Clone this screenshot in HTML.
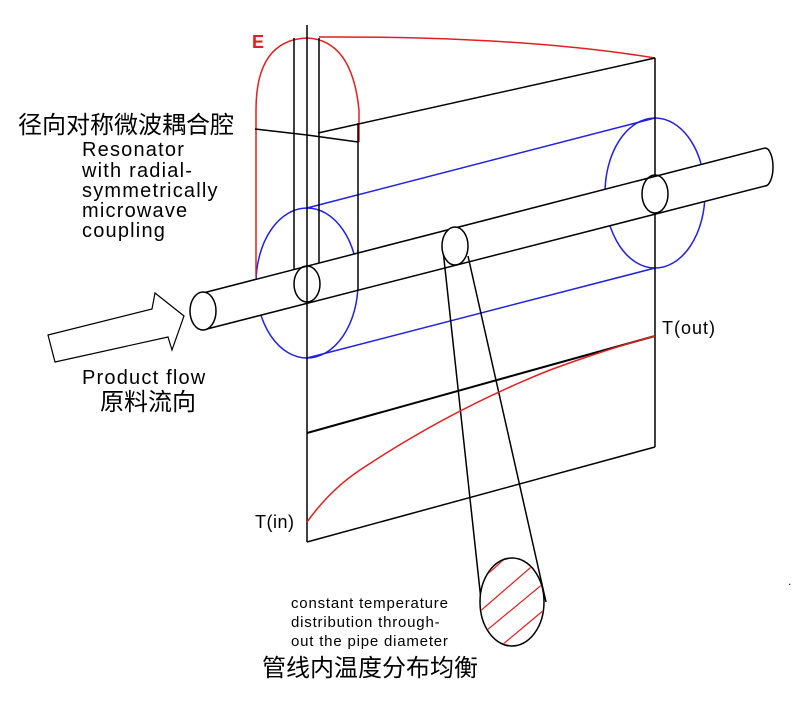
<!DOCTYPE html>
<html><head><meta charset="utf-8"><style>
html,body{margin:0;padding:0;background:#fff;}
svg{display:block;}
text{font-family:"Liberation Sans","Noto Sans CJK SC",sans-serif;fill:#000;}
</style></head><body>
<svg width="808" height="702" viewBox="0 0 808 702" xmlns="http://www.w3.org/2000/svg">
<g fill="none" stroke-width="1.5">
<ellipse cx="307" cy="283" rx="51" ry="75" stroke="#2020e0"/>
<ellipse cx="655" cy="193" rx="50" ry="75" stroke="#2020e0"/>
<line x1="307" y1="208" x2="655" y2="118" stroke="#2020e0"/>
<line x1="307" y1="358" x2="655" y2="268" stroke="#2020e0"/>
<path d="M256,276 L256,110 Q256,40 307,38 Q352,40 359,110 L359,142" stroke="#e02020"/>
<path d="M319,37 Q520,36 655,58" stroke="#e02020"/>
<line x1="307" y1="25" x2="307" y2="542" stroke="#000"/>
<line x1="294" y1="38" x2="294" y2="270" stroke="#000"/>
<line x1="319" y1="38" x2="319" y2="265" stroke="#000"/>
<line x1="358" y1="123" x2="358" y2="290" stroke="#000"/>
<line x1="655" y1="58" x2="655" y2="447" stroke="#000"/>
<line x1="655" y1="58" x2="318" y2="133" stroke="#000"/>
<line x1="307" y1="135" x2="358" y2="142" stroke="#000"/>
<line x1="255" y1="129" x2="307" y2="135" stroke="#000"/>
<path d="M203,293 L765,148 L765,186 L203,330 Z" fill="#fff" stroke="none"/>
<line x1="203" y1="293" x2="765" y2="148" stroke="#000"/>
<line x1="203" y1="330" x2="765" y2="186" stroke="#000"/>
<path d="M765,148 A8,19 0 0 1 765,186" stroke="#000"/>
<ellipse cx="203" cy="311" rx="13" ry="19" stroke="#000" fill="#fff"/>
<line x1="307" y1="265" x2="307" y2="303" stroke="#000"/>
<ellipse cx="307" cy="284" rx="13" ry="18" stroke="#000"/>
<ellipse cx="655" cy="194" rx="13" ry="19" stroke="#000"/>
<line x1="358" y1="250" x2="358" y2="290" stroke="#000"/>
<line x1="443" y1="250" x2="481" y2="600" stroke="#000"/>
<line x1="468" y1="256" x2="546" y2="602" stroke="#000"/>
<ellipse cx="455" cy="246" rx="13" ry="19" stroke="#000" fill="#fff"/>
<ellipse cx="512" cy="602" rx="32" ry="44" stroke="#000" fill="#fff"/>
<clipPath id="c"><ellipse cx="512" cy="602" rx="31" ry="43"/></clipPath>
<g clip-path="url(#c)" stroke="#e02020" stroke-width="1.2">
<line x1="470" y1="590" x2="520" y2="545"/>
<line x1="470" y1="620" x2="545" y2="555"/>
<line x1="475" y1="640" x2="550" y2="578"/>
<line x1="490" y1="655" x2="550" y2="605"/>
<line x1="500" y1="670" x2="560" y2="622"/>
</g>
<line x1="307" y1="542" x2="655" y2="447" stroke="#000"/>
<line x1="307" y1="433" x2="655" y2="336" stroke="#000" stroke-width="2"/>
<path d="M307,522 Q330,490 360,470 Q450,410 550,370 Q610,348 655,336" stroke="#e02020"/>
<polygon points="48,335 152,309 155,293 184,316 172,350 168,337 55,362" stroke="#000" fill="#fff" stroke-width="1.2"/>
</g>
<text x="252" y="48" font-size="18" style="fill:#e02020" font-weight="bold">E</text>
<text x="18" y="133" font-size="24">径向对称微波耦合腔</text>
<g font-size="20" letter-spacing="1.2">
<text x="82" y="156">Resonator</text>
<text x="82" y="177">with radial-</text>
<text x="82" y="197">symmetrically</text>
<text x="82" y="217">microwave</text>
<text x="82" y="237">coupling</text>
<text x="82" y="384">Product flow</text>
</g>
<text x="100" y="410" font-size="24">原料流向</text>
<text x="662" y="334" font-size="18" letter-spacing="1">T(out)</text>
<text x="255" y="528" font-size="18" letter-spacing="0.5">T(in)</text>
<g font-size="15" letter-spacing="0.8">
<text x="291" y="608">constant temperature</text>
<text x="291" y="627">distribution through-</text>
<text x="291" y="646">out the pipe diameter</text>
</g>
<text x="262" y="676" font-size="24">管线内温度分布均衡</text>
<text x="788" y="585" font-size="12">.</text>
</svg>
</body></html>
